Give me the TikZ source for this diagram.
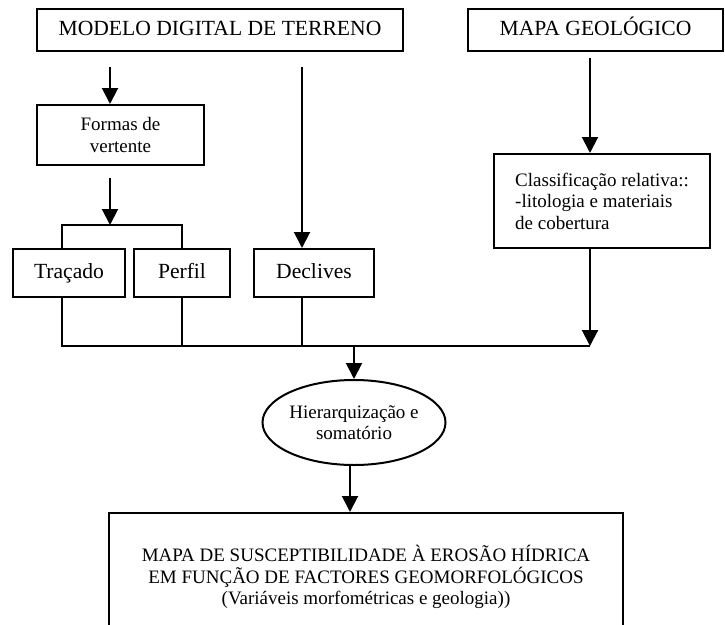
\documentclass[tikz,border=0pt]{standalone}
\usepackage{fontspec}
\setmainfont{Liberation Serif}
\usetikzlibrary{arrows.meta,shapes.geometric}
\def\grande{\fontsize{21.6}{25}\selectfont}
\def\pequeno{\fontsize{19}{21.5}\selectfont}

\begin{document}
\begin{tikzpicture}[x=1pt,y=-1pt,>={Triangle[width=16pt,length=16pt]},line width=2pt]
    \tikzstyle{caixa}=[draw,rectangle,inner sep=0pt,align=center]
    \tikzstyle{linha}=[text height=15pt,text depth=4.5pt]
    \useasboundingbox (0,0) rectangle (725,624);
    % fontes de dados
    \node[caixa,linha,font=\grande,minimum width=366pt,minimum height=42pt] (mdt) at (220,30) {MODELO DIGITAL DE TERRENO};
    \node[caixa,linha,font=\grande,minimum width=255pt,minimum height=42pt] (geo) at (595.5,30) {MAPA GEOL\'OGICO};
    % variaveis
    \node[caixa,font=\pequeno,minimum width=167pt,minimum height=60pt] (formas) at (120.5,135) {Formas de\\vertente};
    \node[caixa,linha,font=\grande,minimum width=112pt,minimum height=48pt] (tracado) at (69,273) {Traçado};
    \node[caixa,linha,font=\grande,minimum width=96pt,minimum height=48pt] (perfil) at (182,273) {Perfil};
    \node[caixa,linha,font=\grande,minimum width=120pt,minimum height=48pt] (declives) at (314,273) {Declives};
    \node[caixa,font=\pequeno,align=left,minimum width=216pt,minimum height=94pt] (classif) at (602,201) {Classificação relativa::\\-litologia e materiais\\de cobertura};
    % resultado
    \node[draw,ellipse,font=\pequeno,align=center,inner sep=0pt,minimum width=183pt,minimum height=85pt] (hier) at (354,422.5) {Hierarquização e\\somatório};
    \node[caixa,font=\pequeno,minimum width=514pt,minimum height=128pt] (mapa) at (366,577) {MAPA DE SUSCEPTIBILIDADE À EROSÃO HÍDRICA\\EM FUNÇÃO DE FACTORES GEOMORFOLÓGICOS\\(Variáveis morfométricas e geologia))};
    \coordinate (ramo) at (110,225);
    \coordinate (bus) at (354,346);
    \coordinate (busfim) at (590,346);
    % ligacoes
    \draw[->] ([xshift=-110pt,yshift=-15pt]mdt.south) -- ([xshift=-10.5pt]formas.north);
    \draw[->] ([xshift=82pt,yshift=-15pt]mdt.south) -- ([xshift=-12pt]declives.north);
    \draw[->] ([xshift=-5.5pt,yshift=-6pt]geo.south) -- ([xshift=-12pt]classif.north);
    \draw[->] ([xshift=-10.5pt,yshift=-12pt]formas.south) -- (ramo);
    \draw ([xshift=-7pt]tracado.north) |- (ramo) -| (perfil.north);
    \draw ([xshift=-7pt]tracado.south) |- (busfim);
    \draw (perfil.south) -- (perfil.south |- bus);
    \draw ([xshift=-12pt]declives.south) -- ([xshift=-12pt]declives.south |- bus);
    \draw[->] ([xshift=-12pt]classif.south) -- (busfim);
    \draw[->] (bus) -- (hier.north);
    \draw[->] ([xshift=-4pt]hier.south) -- ([xshift=-16pt]mapa.north);
\end{tikzpicture}
\end{document}
